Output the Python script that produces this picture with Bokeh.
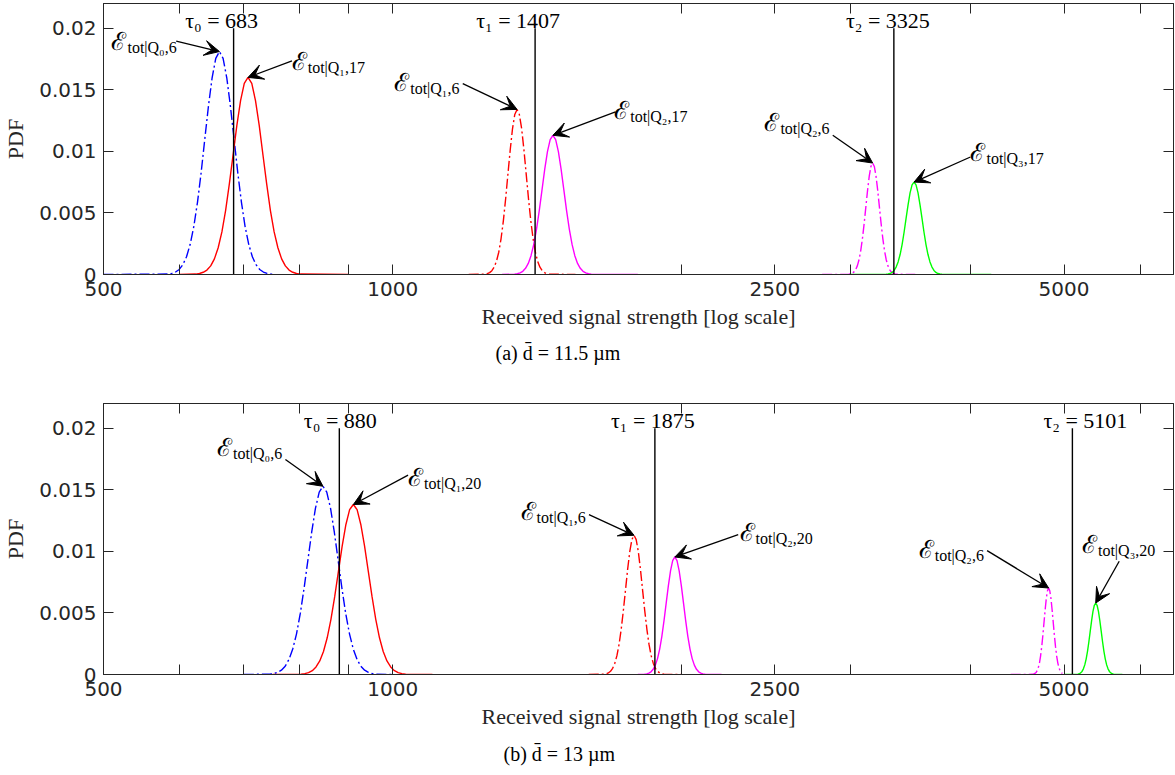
import numpy as np
from bokeh.plotting import figure
from bokeh.layouts import column
from bokeh.models import (Range1d, LogAxis, LinearAxis, FixedTicker, Arrow, VeeHead,
                          ColumnDataSource, Title, NumeralTickFormatter, BasicTickFormatter)
from bokeh.core.properties import value
from bokeh.embed import file_html
from bokeh.resources import INLINE

# ---------------- axes ----------------
x_ticks = [500, 1000, 2500, 5000]
x_tick_labels = ["500", "1000", "2500", "5000"]
x_minor_ticks = [600, 700, 800, 900, 2000, 3000, 4000, 6000]
y_ticks = [0, 0.005, 0.01, 0.015, 0.02]
y_tick_labels = ["0", "0.005", "0.01", "0.015", "0.02"]
x_limits = [500, 6500]
y_limits = [0, 0.022]
tau_line_top = 0.02

# ---------------- panel (a) ----------------
a_caption = "(a) d\u0304 = 11.5 \u00b5m"
a_tau = [683, 1407, 3325]

a_q0_6_x = [500, 583.9, 589.1, 594.3, 599.5, 604.8, 610.1, 615.5, 620.9, 626.4, 631.9, 637.4, 643.0, 648.7, 654.4, 660.2,
            666.0, 671.9, 677.8, 683.8, 689.8, 695.9, 702.0, 708.2, 714.4, 720.7, 727.1, 733.5, 740.0, 746.5, 750]
a_q0_6_y = [0, 0.00004, 0.00009, 0.0002, 0.00041, 0.0008, 0.00144, 0.00245, 0.00391, 0.00588, 0.00829, 0.01098, 0.01366, 0.01597, 0.01754, 0.0181,
            0.01754, 0.01597, 0.01366, 0.01098, 0.00829, 0.00588, 0.00391, 0.00245, 0.00144, 0.0008, 0.00041, 0.0002, 0.00009, 0.00004, 0]
a_q1_17_x = [600, 623.8, 629.4, 635.0, 640.7, 646.5, 652.3, 658.2, 664.1, 670.0, 676.0, 682.1, 688.3, 694.5, 700.7, 707.0,
             713.4, 719.8, 726.3, 732.8, 739.4, 746.0, 752.7, 759.5, 766.3, 773.2, 780.1, 787.1, 794.2, 801.4, 900]
a_q1_17_y = [0, 0.000035, 0.00008, 0.00018, 0.00036, 0.0007, 0.00127, 0.00217, 0.00346, 0.00519, 0.00733, 0.0097, 0.01208, 0.01412, 0.01551, 0.016,
             0.01551, 0.01412, 0.01208, 0.0097, 0.00733, 0.00519, 0.00346, 0.00217, 0.00127, 0.0007, 0.00036, 0.00018, 0.00008, 0.000035, 0]
a_q1_6_x = [1200, 1247.9, 1254.7, 1261.6, 1268.5, 1275.5, 1282.5, 1289.6, 1296.7, 1303.9, 1311.0, 1318.2, 1325.5, 1332.8, 1340.1, 1347.5,
            1354.9, 1362.4, 1369.9, 1377.4, 1385.0, 1392.6, 1400.3, 1408.0, 1415.7, 1423.5, 1431.3, 1439.2, 1447.1, 1455.1, 1550]
a_q1_6_y = [0, 0.00003, 0.00007, 0.00015, 0.00031, 0.00059, 0.00107, 0.00181, 0.0029, 0.00435, 0.00613, 0.00813, 0.01011, 0.01183, 0.01299, 0.0134,
            0.01299, 0.01183, 0.01011, 0.00813, 0.00613, 0.00435, 0.0029, 0.00181, 0.00107, 0.00059, 0.00031, 0.00015, 0.00007, 0.00003, 0]
a_q2_17_x = [1300, 1339.5, 1348.3, 1357.2, 1366.1, 1375.1, 1384.2, 1393.3, 1402.5, 1411.7, 1421.0, 1430.4, 1439.8, 1449.3, 1458.8, 1468.4,
             1478.1, 1487.8, 1497.6, 1507.5, 1517.4, 1527.4, 1537.4, 1547.5, 1557.7, 1568.0, 1578.3, 1588.7, 1599.2, 1609.7, 1800]
a_q2_17_y = [0, 0.000025, 0.00006, 0.000126, 0.00026, 0.0005, 0.0009, 0.00153, 0.00244, 0.00367, 0.00517, 0.00685, 0.00853, 0.00997, 0.01095, 0.0113,
             0.01095, 0.00997, 0.00853, 0.00685, 0.00517, 0.00367, 0.00244, 0.00153, 0.0009, 0.0005, 0.00026, 0.000126, 0.00006, 0.000025, 0]
a_q2_6_x = [2800, 2985.5, 2997.7, 3009.9, 3022.1, 3034.4, 3046.7, 3059.1, 3071.5, 3084.0, 3096.5, 3109.1, 3121.8, 3134.5, 3147.2, 3160.0,
            3172.8, 3185.7, 3198.7, 3211.7, 3224.8, 3237.9, 3251.0, 3264.2, 3277.5, 3290.8, 3304.2, 3317.6, 3331.1, 3344.7, 3500]
a_q2_6_y = [0, 0.00002, 0.00005, 0.0001, 0.00021, 0.0004, 0.00072, 0.00122, 0.00196, 0.00294, 0.00414, 0.00549, 0.00683, 0.00799, 0.00877, 0.00905,
            0.00877, 0.00799, 0.00683, 0.00549, 0.00414, 0.00294, 0.00196, 0.00122, 0.00072, 0.0004, 0.00021, 0.0001, 0.00005, 0.00002, 0]
a_q3_17_x = [3000, 3264.3, 3279.9, 3295.6, 3311.4, 3327.2, 3343.1, 3359.1, 3375.2, 3391.3, 3407.5, 3423.8, 3440.2, 3456.7, 3473.2, 3489.8,
             3506.5, 3523.3, 3540.2, 3557.1, 3574.1, 3591.2, 3608.4, 3625.6, 3643.0, 3660.4, 3677.9, 3695.5, 3713.2, 3730.9, 4200]
a_q3_17_y = [0, 0.000016, 0.00004, 0.00008, 0.00017, 0.00033, 0.0006, 0.00102, 0.00162, 0.00243, 0.00343, 0.00455, 0.00566, 0.00662, 0.00727, 0.0075,
             0.00727, 0.00662, 0.00566, 0.00455, 0.00343, 0.00243, 0.00162, 0.00102, 0.0006, 0.00033, 0.00017, 0.00008, 0.00004, 0.000016, 0]

a_names = ["tot|Q\u2080,6", "tot|Q\u2081,17", "tot|Q\u2081,6", "tot|Q\u2082,17", "tot|Q\u2082,6", "tot|Q\u2083,17"]
a_lab_x = [509.6, 785.1, 1003.7, 1700.7, 2437.8, 3994.9]
a_lab_y = [0.01894, 0.01732, 0.01561, 0.01333, 0.01236, 0.00992]
a_tail_x = [595.2, 785.6, 1183, 1706, 2872, 3994.9]
a_tail_y = [0.01894, 0.01734, 0.0155, 0.0132, 0.0113, 0.00954]

# ---------------- panel (b) ----------------
b_caption = "(b) d\u0304 = 13 \u00b5m"
b_tau = [880, 1875, 5101]

b_q0_6_x = [700, 745.3, 752.1, 759.0, 765.9, 772.9, 779.9, 787.0, 794.2, 801.4, 808.7, 816.1, 823.5, 831.0, 838.6, 846.2,
            853.9, 861.7, 869.6, 877.5, 885.5, 893.5, 901.7, 909.9, 918.2, 926.5, 935.0, 943.5, 952.1, 960.7, 1000]
b_q0_6_y = [0, 0.000033, 0.00008, 0.00017, 0.00035, 0.00067, 0.00122, 0.00207, 0.0033, 0.00496, 0.007, 0.00927, 0.01153, 0.01348, 0.01481, 0.01528,
            0.01481, 0.01348, 0.01153, 0.00927, 0.007, 0.00496, 0.0033, 0.00207, 0.00122, 0.00067, 0.00035, 0.00017, 0.00008, 0.000033, 0]
b_q1_20_x = [750, 802.9, 810.1, 817.4, 824.8, 832.2, 839.7, 847.2, 854.8, 862.5, 870.3, 878.1, 886.0, 894.0, 902.0, 910.1,
             918.3, 926.5, 934.9, 943.3, 951.8, 960.3, 968.9, 977.6, 986.4, 995.3, 1004.3, 1013.3, 1022.4, 1031.6, 1100]
b_q1_20_y = [0, 0.00003, 0.00007, 0.00015, 0.00031, 0.00061, 0.0011, 0.00187, 0.00298, 0.00448, 0.00632, 0.00837, 0.01042, 0.01218, 0.01338, 0.0138,
             0.01338, 0.01218, 0.01042, 0.00837, 0.00632, 0.00448, 0.00298, 0.00187, 0.0011, 0.00061, 0.00031, 0.00015, 0.00007, 0.00003, 0]
b_q1_6_x = [1600, 1660.0, 1668.5, 1677.1, 1685.7, 1694.4, 1703.1, 1711.9, 1720.7, 1729.5, 1738.4, 1747.4, 1756.4, 1765.4, 1774.5, 1783.6,
            1792.8, 1802.0, 1811.3, 1820.6, 1830.0, 1839.4, 1848.8, 1858.3, 1867.9, 1877.5, 1887.1, 1896.8, 1906.6, 1916.4, 2000]
b_q1_6_y = [0, 0.000025, 0.00006, 0.000126, 0.00026, 0.0005, 0.0009, 0.00153, 0.00244, 0.00367, 0.00517, 0.00685, 0.00853, 0.00997, 0.01095, 0.0113,
            0.01095, 0.00997, 0.00853, 0.00685, 0.00517, 0.00367, 0.00244, 0.00153, 0.0009, 0.0005, 0.00026, 0.000126, 0.00006, 0.000025, 0]
b_q2_20_x = [1800, 1829.1, 1838.6, 1848.2, 1857.8, 1867.4, 1877.1, 1886.9, 1896.7, 1906.6, 1916.5, 1926.5, 1936.5, 1946.6, 1956.7, 1966.9,
             1977.1, 1987.4, 1997.8, 2008.2, 2018.6, 2029.1, 2039.7, 2050.3, 2061.0, 2071.7, 2082.5, 2093.3, 2104.2, 2115.1, 2200]
b_q2_20_y = [0, 0.00002, 0.00005, 0.00011, 0.00022, 0.00042, 0.00076, 0.00129, 0.00206, 0.0031, 0.00437, 0.00579, 0.0072, 0.00842, 0.00925, 0.00954,
             0.00925, 0.00842, 0.0072, 0.00579, 0.00437, 0.0031, 0.00206, 0.00129, 0.00076, 0.00042, 0.00022, 0.00011, 0.00005, 0.00002, 0]
b_q2_6_x = [4400, 4636.9, 4649.6, 4662.4, 4675.2, 4688.1, 4701.0, 4713.9, 4726.8, 4739.8, 4752.8, 4765.9, 4779.0, 4792.1, 4805.3, 4818.5,
            4831.7, 4845.0, 4858.3, 4871.7, 4885.1, 4898.5, 4911.9, 4925.4, 4938.9, 4952.5, 4966.1, 4979.8]
b_q2_6_y = [0, 0.000015, 0.00004, 0.00008, 0.00016, 0.00031, 0.00056, 0.00095, 0.00152, 0.00228, 0.00321, 0.00426, 0.0053, 0.0062, 0.0068, 0.00702,
            0.0068, 0.0062, 0.0053, 0.00426, 0.00321, 0.00228, 0.00152, 0.00095, 0.00056, 0.00031, 0.00016, 0.00008]
b_q3_20_x = [5000, 5152.2, 5169.1, 5186.1, 5203.1, 5220.2, 5237.4, 5254.6, 5271.9, 5289.2, 5306.6, 5324.0, 5341.5, 5359.0, 5376.6, 5394.3,
             5412.0, 5429.8, 5447.7, 5465.6, 5483.5, 5501.5, 5519.6, 5537.7, 5555.9, 5574.2, 5592.5, 5610.9, 5629.3, 5647.8, 5750]
b_q3_20_y = [0, 0.000013, 0.00003, 0.00006, 0.00013, 0.00025, 0.00046, 0.00078, 0.00125, 0.00188, 0.00266, 0.00352, 0.00438, 0.00512, 0.00562, 0.0058,
             0.00562, 0.00512, 0.00438, 0.00352, 0.00266, 0.00188, 0.00125, 0.00078, 0.00046, 0.00025, 0.00013, 0.00006, 0.00003, 0.000013, 0]

b_names = ["tot|Q\u2080,6", "tot|Q\u2081,20", "tot|Q\u2081,6", "tot|Q\u2082,20", "tot|Q\u2082,6", "tot|Q\u2083,20"]
b_lab_x = [656.3, 1037.7, 1359, 2296.8, 3529, 5219.6]
b_lab_y = [0.01846, 0.01602, 0.01325, 0.01154, 0.01016, 0.01057]
b_tail_x = [773.3, 1037.7, 1600.9, 2289.6, 4157.9, 5706.6]
b_tail_y = [0.01746, 0.01618, 0.01298, 0.01136, 0.01006, 0.00919]

colors = ["#0000ff", "#ff0000", "#ff0000", "#ff00ff", "#ff00ff", "#00ff00"]
dashed = [True, False, True, False, True, False]
tau_subs = ["\u2080", "\u2081", "\u2082"]
a_tau_dx = [-12, -17, -6]
b_tau_dx = [1, -2, 13]

AX = "#262626"
DASHDOT = "10 3 2 3"


def style_axis(ax, labels=True):
    ax.axis_line_color = AX
    ax.axis_line_width = 1
    ax.major_tick_line_color = AX
    ax.minor_tick_line_color = AX
    ax.major_tick_in = 10
    ax.major_tick_out = 0
    ax.minor_tick_in = 10
    ax.minor_tick_out = 0
    if labels:
        ax.major_label_text_font = "DejaVu Sans"
        ax.major_label_text_font_size = "20px"
        ax.major_label_text_color = AX
    else:
        ax.major_label_text_color = None
        ax.major_label_text_font_size = "1px"
        ax.major_label_standoff = 0


def make_panel(curves, tau, tau_dx, names, lab_x, lab_y, tail_x, tail_y, caption,
               caption_offset, caption_standoff, height, top_border, bottom_border):
    p = figure(width=1175, height=height, x_axis_type="log",
               x_range=Range1d(*x_limits), y_range=Range1d(*y_limits),
               output_backend="svg", toolbar_location=None,
               min_border_left=99, min_border_right=2,
               min_border_top=top_border, min_border_bottom=bottom_border)
    p.grid.visible = False
    p.outline_line_color = AX
    p.background_fill_color = "white"

    # bottom x axis
    xa = p.xaxis[0]
    xa.ticker = FixedTicker(ticks=x_ticks, minor_ticks=x_minor_ticks)
    xa.formatter = NumeralTickFormatter(format="0")
    xa.major_label_overrides = dict(zip(x_ticks, x_tick_labels))
    style_axis(xa)
    xa.major_label_standoff = 7
    xa.axis_label = "Received signal strength [log scale]"
    xa.axis_label_text_font = "Liberation Serif"
    xa.axis_label_text_font_size = "22px"
    xa.axis_label_text_font_style = "normal"
    xa.axis_label_text_color = AX
    xa.axis_label_standoff = 5

    # left y axis
    ya = p.yaxis[0]
    ya.ticker = FixedTicker(ticks=y_ticks)
    ya.formatter = BasicTickFormatter()
    ya.major_label_overrides = dict(zip(y_ticks, y_tick_labels))
    style_axis(ya)
    ya.major_label_standoff = 7
    ya.axis_label = "PDF"
    ya.axis_label_text_font = "Liberation Serif"
    ya.axis_label_text_font_size = "22px"
    ya.axis_label_text_font_style = "normal"
    ya.axis_label_text_color = AX
    ya.axis_label_standoff = 8

    # box axes (ticks only)
    top = LogAxis(ticker=FixedTicker(ticks=x_ticks, minor_ticks=x_minor_ticks))
    style_axis(top, labels=False)
    p.add_layout(top, "above")
    right = LinearAxis(ticker=FixedTicker(ticks=y_ticks))
    style_axis(right, labels=False)
    p.add_layout(right, "right")

    # caption below axis label
    p.add_layout(Title(text=caption, align="left", offset=caption_offset,
                       standoff=caption_standoff,
                       text_font="Liberation Serif", text_font_size="20px",
                       text_font_style="normal", text_color="black"), "below")

    # curves
    peaks_x, peaks_y = [], []
    for (cx, cy), col, dsh in zip(curves, colors, dashed):
        p.line(cx, cy, line_color=col, line_width=1.4,
               line_dash=DASHDOT if dsh else "solid")
        i = int(np.argmax(cy))
        peaks_x.append(cx[i])
        peaks_y.append(cy[i])

    # threshold lines and labels
    p.segment(x0=tau, y0=[0] * len(tau), x1=tau, y1=[tau_line_top] * len(tau),
              line_color="black", line_width=1.4)
    tsrc = ColumnDataSource(dict(x=tau, y=[tau_line_top + 0.0006] * len(tau),
                                 dx=tau_dx,
                                 t=[f"\u03c4{s} = {t}" for s, t in zip(tau_subs, tau)]))
    p.text(x="x", y="y", text="t", x_offset="dx", source=tsrc,
           text_align="center", text_baseline="alphabetic",
           text_font=value("Liberation Serif"), text_font_size="22px",
           text_color="black")

    # arrows
    src = ColumnDataSource(dict(x0=tail_x, y0=tail_y, x1=peaks_x, y1=peaks_y))
    p.add_layout(Arrow(end=VeeHead(size=15, fill_color="black", line_color="black"),
                       source=src, x_start="x0", y_start="y0", x_end="x1", y_end="y1",
                       line_color="black", line_width=1.3))

    # curve labels
    p.text(x=lab_x, y=lab_y, text=["\u2130"] * len(lab_x),
           text_align="left", text_baseline="middle",
           text_font=value("DejaVu Serif"), text_font_size="25px", text_color="black")
    p.text(x=lab_x, y=lab_y, text=names, x_offset=16, y_offset=6,
           text_align="left", text_baseline="middle",
           text_font=value("Liberation Serif"), text_font_size="16px", text_color="black")
    return p


pa = make_panel([(a_q0_6_x, a_q0_6_y), (a_q1_17_x, a_q1_17_y), (a_q1_6_x, a_q1_6_y),
                 (a_q2_17_x, a_q2_17_y), (a_q2_6_x, a_q2_6_y), (a_q3_17_x, a_q3_17_y)],
                a_tau, a_tau_dx, a_names, a_lab_x, a_lab_y, a_tail_x, a_tail_y, a_caption, 392, 17,
                height=390, top_border=3, bottom_border=116)
pb = make_panel([(b_q0_6_x, b_q0_6_y), (b_q1_20_x, b_q1_20_y), (b_q1_6_x, b_q1_6_y),
                 (b_q2_20_x, b_q2_20_y), (b_q2_6_x, b_q2_6_y), (b_q3_20_x, b_q3_20_y)],
                b_tau, b_tau_dx, b_names, b_lab_x, b_lab_y, b_tail_x, b_tail_y, b_caption, 400, 19,
                height=385, top_border=13, bottom_border=101)

layout = column(pa, pb)
open("out.html", "w").write(file_html(layout, INLINE))
